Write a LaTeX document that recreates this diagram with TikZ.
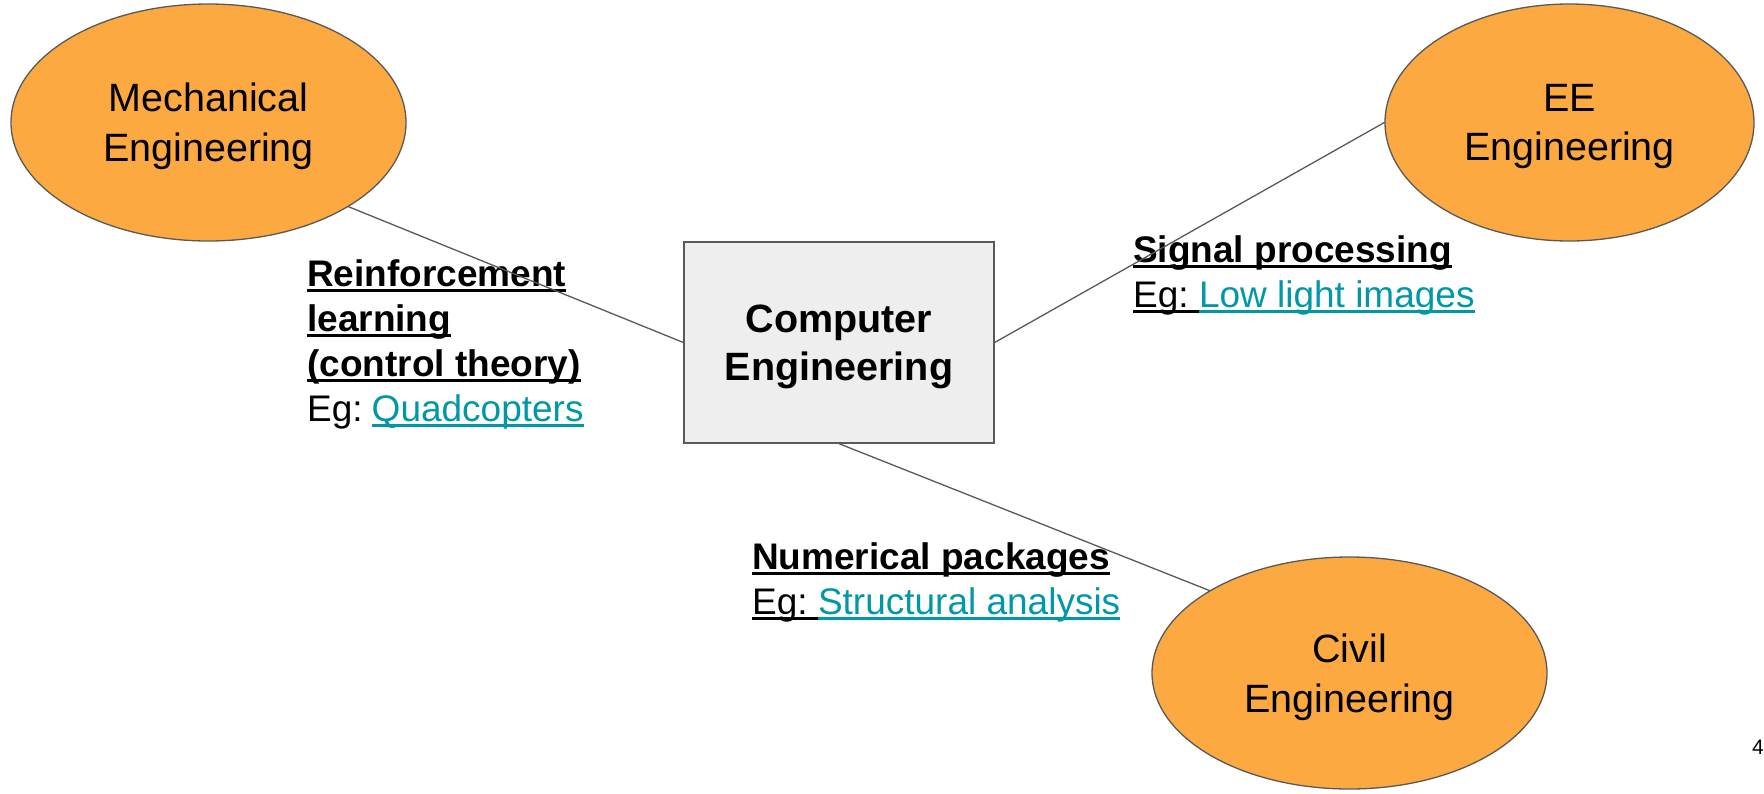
\documentclass[tikz,border=0pt]{standalone}
\usepackage{fontspec}
\setmainfont{Liberation Sans}
\usetikzlibrary{shapes.geometric}

\definecolor{fieldorange}{RGB}{251,169,64}
\definecolor{edgegray}{RGB}{89,89,89}
\definecolor{boxgray}{RGB}{238,238,238}
\definecolor{linkteal}{RGB}{0,151,167}

% underline at a fixed depth below the baseline
\newsavebox{\ulnbox}
\newcommand{\uln}[1]{\sbox{\ulnbox}{#1}\rlap{\rule[-5.5pt]{\wd\ulnbox}{3pt}}\usebox{\ulnbox}}

\begin{document}
\begin{tikzpicture}[
  x=1pt,
  y=-1pt,
  line cap=round,
  field/.style={ellipse, draw=edgegray, fill=fieldorange, line width=1.3pt,
    minimum width=395pt, minimum height=237pt, inner sep=0pt, align=center,
    text depth=-5.6pt, font=\fontsize{39.5}{49.7}\selectfont},
  core/.style={rectangle, draw=edgegray, fill=boxgray, line width=1.3pt,
    minimum width=310pt, minimum height=201pt, align=center,
    text depth=-5.6pt, font=\fontsize{39.5}{47.7}\selectfont\bfseries},
  link/.style={draw=edgegray, line width=1.3pt},
  note/.style={anchor=base west, align=left, inner sep=0pt,
    font=\fontsize{37}{45}\selectfont},
]
\useasboundingbox (0,0) rectangle (1764,793);

% Computer Engineering in the middle
\node[core] (comp) at (839,342.5) {Computer\\Engineering};

% the three neighbouring fields
\node[field] (mech) at (208.5,122.5) {Mechanical\\Engineering};
\node[field, minimum width=369pt] (ee) at (1569.5,122.5) {EE\\Engineering};
\node[field, minimum height=232pt] (civil) at (1349.5,673) {Civil\\Engineering};

% what the fields share with it (anchored at the last line)
\node[note] (mechnote) at (307,421)
  {\textbf{\uln{Reinforcement}}\\
   \textbf{\uln{learning}}\\
   \textbf{\uln{(control theory)}}\\
   Eg:\kern9pt\textcolor{linkteal}{\uln{Quadcopters}}};
\node[note] (eenote) at (1133,307)
  {\textbf{\uln{Signal processing}}\\
   \uln{Eg:\ }\textcolor{linkteal}{\uln{Low light images}}};
\node[note] (civilnote) at (752,614)
  {\textbf{\uln{Numerical packages}}\\
   \uln{Eg:\ }\textcolor{linkteal}{\uln{Structural analysis}}};

% connectors
\draw[link] (mech.south east) -- (comp.west);
\draw[link] (comp.east) -- (ee.west);
\draw[link] (comp.south) -- (civil.north west);

% slide number
\node[anchor=base west, inner sep=0pt, font=\fontsize{21}{25}\selectfont]
  (pagenum) at (1752,754) {4};

\end{tikzpicture}
\end{document}
